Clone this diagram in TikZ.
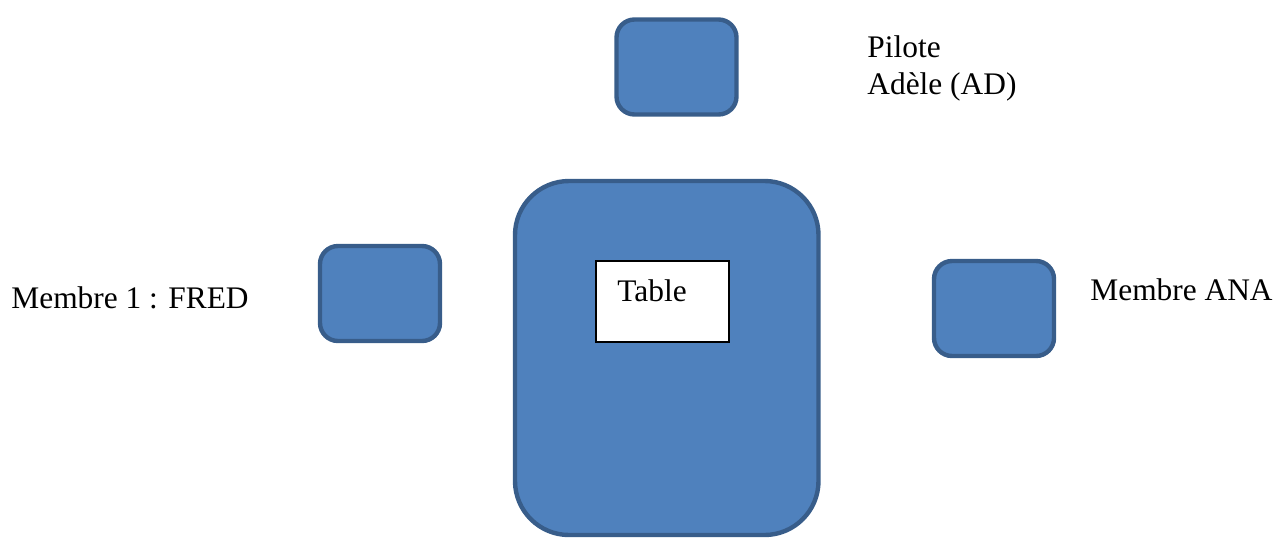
\documentclass[tikz,border=0pt]{standalone}
\usepackage{fontspec}
\setmainfont{Liberation Serif}
\usetikzlibrary{positioning}
\definecolor{seatfill}{HTML}{4F81BD}
\definecolor{seatdraw}{HTML}{385D8A}

\begin{document}
\begin{tikzpicture}[
    x = 0.5pt,
    y = -0.5pt,
    seat/.style={
        fill = seatfill,
        draw = seatdraw,
        line width = 2.2pt,
        rounded corners = 9pt,
        minimum width = 60pt,
        minimum height = 47.5pt,
        inner sep = 0pt
    },
    bigtable/.style={
        seat,
        rounded corners = 27pt,
        minimum width = 151.75pt,
        minimum height = 177pt
    },
    namebox/.style={
        fill = white,
        draw = black,
        line width = 0.6pt,
        minimum width = 66.5pt,
        minimum height = 40.5pt,
        inner sep = 0pt
    },
    nametext/.style={
        inner sep = 0pt,
        font = \fontsize{15.7}{18.5}\selectfont,
        align = left
    }
]
\useasboundingbox (0,0) rectangle (1283,537);

% table
\node[bigtable] (table) at (666.75, 358) {};
\node[namebox] (tablebox) at (662.5, 301.5) {};
\node[nametext, anchor = base west] (tablename) at (617, 301) {Table};

% seats
\node[seat] (pilote) at (676.5, 67) {};
\node[seat] (fred) at (380, 293.5) {};
\node[seat] (ana) at (994, 308.5) {};

% names
\node[nametext, anchor = north west] (pilotename) at (867, 35) {Pilote\\Adèle (AD)};
\node[nametext, anchor = base west] (fredname) at (11, 308) {Membre 1 : FRED};
\node[nametext, anchor = base west] (ananame) at (1090, 300) {Membre ANA};

\end{tikzpicture}
\end{document}
